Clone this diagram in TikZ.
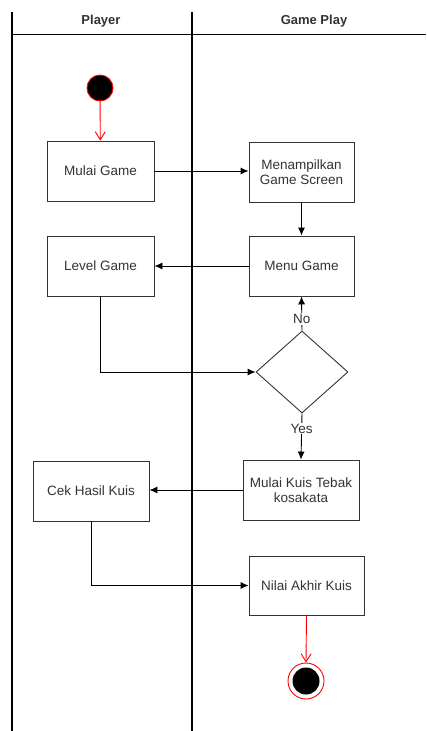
\documentclass[tikz,border=0pt]{standalone}
\usepackage{fontspec}
\setmainfont{Liberation Sans}
\usetikzlibrary{arrows.meta,shapes.geometric}
\definecolor{txt}{HTML}{333333}
\definecolor{bord}{HTML}{333333}
\tikzset{
  actbox/.style={draw=bord, line width=0.9pt, fill=white, rectangle, inner sep=0pt, align=center, text=txt, font=\fontsize{13.5}{15.5}\selectfont},
  lab/.style={text=txt, font=\fontsize{13.5}{15.5}\selectfont, inner sep=1pt},
  head/.style={text=txt, font=\bfseries\fontsize{13}{15}\selectfont, inner sep=1pt},
  flow/.style={line width=0.9pt, -{Latex[length=8pt,width=7pt]}},
  redflow/.style={draw=red, line width=0.9pt, -{Straight Barb[length=8pt,width=10pt]}},
  lane/.style={line width=1.3pt},
}
\begin{document}
\begin{tikzpicture}[x=1pt,y=-1pt]
\useasboundingbox (0,0) rectangle (426,731);
% swimlanes
\draw[lane] (12,12) -- (12,731);
\draw[line width=2pt] (192,12) -- (192,731);
\draw[line width=1pt] (12,34) -- (426,34);
\node[head] (hp) at (101,21) {Player};
\node[head] (hg) at (314,21) {Game Play};
% start
\node[circle, draw=red, fill=black, line width=0.9pt, minimum size=26pt, inner sep=0pt] (start) at (100,88) {};
% boxes
\node[actbox, minimum width=107pt, minimum height=60pt] (mulai) at (100.5,171) {Mulai Game};
\node[actbox, minimum width=105pt, minimum height=60pt] (tampil) at (301.5,172) {Menampilkan\\Game Screen};
\node[actbox, minimum width=107pt, minimum height=60pt] (level) at (100.5,266) {Level Game};
\node[actbox, minimum width=105pt, minimum height=60pt] (menu) at (301.5,266) {Menu Game};
\node[diamond, draw=bord, line width=0.9pt, minimum width=92pt, minimum height=82pt, inner sep=0pt, aspect=1.12] (dec) at (302,372) {};
\node[actbox, minimum width=116pt, minimum height=60pt] (kuis) at (301,490) {Mulai Kuis Tebak\\kosakata};
\node[actbox, minimum width=116pt, minimum height=60pt] (cek) at (91,491) {Cek Hasil Kuis};
\node[actbox, minimum width=115pt, minimum height=59pt] (nilai) at (306.5,585.5) {Nilai Akhir Kuis};
% end
\node[circle, draw=red, fill=white, line width=0.9pt, minimum size=36pt, inner sep=0pt] (end) at (306,681) {};
\node[circle, fill=black, minimum size=27pt, inner sep=0pt] (endin) at (306,681) {};
% connectors
\draw[redflow] (start) -- (mulai);
\draw[flow] (mulai.east) -- (mulai.east -| tampil.west);
\draw[flow] (tampil) -- (menu);
\draw[flow] (menu.west) -- (level.east);
\draw[flow] (dec.north) -- node[lab, fill=white, pos=0.34] (no) {No} (menu.south);
\draw[flow] (level.south) |- (dec.west);
\draw[flow] (dec.south) -- node[lab, fill=white, pos=0.33] (yes) {Yes} (kuis.north);
\draw[flow] (kuis.west) -- (kuis.west -| cek.east);
\draw[flow] (cek.south) |- (nilai.west);
\draw[redflow] (nilai.south) -- (end.north);
\end{tikzpicture}
\end{document}
